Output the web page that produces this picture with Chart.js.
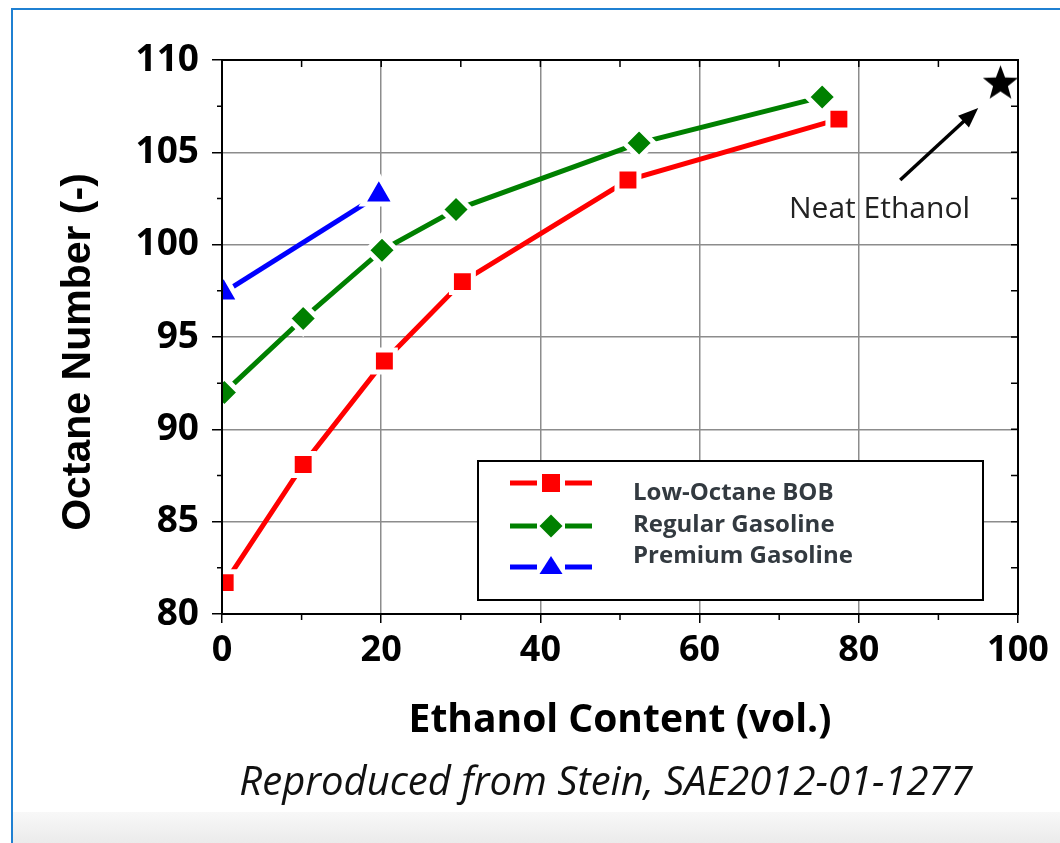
<!DOCTYPE html>
<html>
<head>
<meta charset="utf-8">
<title>Octane Number vs Ethanol Content</title>
<script src="https://cdn.jsdelivr.net/npm/chart.js@4.4.1/dist/chart.umd.min.js"></script>
<style>
  html, body { margin: 0; padding: 0; background: #fff; }
  #page { position: relative; width: 1060px; height: 843px; overflow: hidden; }
  #frame { position: absolute; left: 11px; top: 8px; right: 0; bottom: 0;
           border-left: 2px solid #1f80d2; border-top: 2px solid #1f80d2; }
  #foot { position: absolute; left: 13px; right: 0; top: 812px; bottom: 0;
          background: linear-gradient(#f8f8f8, #ebebeb); }
  #c { position: absolute; left: 0; top: 0; }
</style>
</head>
<body>
<div id="page">
  <div id="frame"></div>
  <div id="foot"></div>
  <canvas id="c" width="1060" height="843"></canvas>
</div>
<script>
// data
const bobX = [0.4, 10.2, 20.4, 30.2, 51.0, 77.5];
const bobY = [81.7, 88.1, 93.7, 98.0, 103.5, 106.8];
const regX = [0.3, 10.2, 20.1, 29.4, 52.4, 75.4];
const regY = [92.0, 96.0, 99.7, 101.9, 105.5, 108.0];
const premX = [0.2, 19.7];
const premY = [97.4, 102.7];
const neatX = [97.8];
const neatY = [108.8];

const xLabels = [0, 20, 40, 60, 80, 100];
const yLabels = [80, 85, 90, 95, 100, 105, 110];

const arrowFrom = [85.2, 103.5];
const arrowTo = [95.0, 107.4];
const noteAt = [82.6, 101.9];

function pts(xs, ys) {
  return xs.map((x, i) => ({ x: x, y: ys[i] }));
}

function starImage(size) {
  const c = document.createElement("canvas");
  c.width = c.height = size;
  const g = c.getContext("2d");
  const cx = size / 2, cy = size / 2 + 1.5, R = size / 2 - 1, r = R * 0.42;
  g.fillStyle = "#000";
  g.beginPath();
  for (let i = 0; i < 10; i++) {
    const ang = -Math.PI / 2 + i * Math.PI / 5;
    const rr = i % 2 ? r : R;
    g.lineTo(cx + rr * Math.cos(ang), cy + rr * Math.sin(ang));
  }
  g.closePath();
  g.fill();
  return c;
}

const series = [
  { label: "Low-Octane BOB", color: "#ff0000", style: "rect", radius: 15.5, data: pts(bobX, bobY) },
  { label: "Regular Gasoline", color: "#008000", style: "rectRot", radius: 15, data: pts(regX, regY) },
  { label: "Premium Gasoline", color: "#0000ff", style: "triangle", radius: 18.5, data: pts(premX, premY) }
];

const datasets = series.map(s => ({
  label: s.label,
  data: s.data,
  borderColor: s.color,
  backgroundColor: s.color,
  borderWidth: 5,
  pointStyle: s.style,
  pointRadius: s.radius,
  pointBorderColor: "#fff",
  pointBorderWidth: 5,
  pointBackgroundColor: s.color,
  tension: 0
}));

datasets.push({
  label: "Neat Ethanol",
  data: pts(neatX, neatY),
  showLine: false,
  pointStyle: starImage(39),
  pointRadius: 19
});

function drawMarker(ctx, style, x, y, color) {
  ctx.fillStyle = color;
  ctx.beginPath();
  if (style === "rect") {
    ctx.rect(x - 9, y - 9, 18, 18);
  } else if (style === "rectRot") {
    ctx.moveTo(x - 11.5, y); ctx.lineTo(x, y - 11.5);
    ctx.lineTo(x + 11.5, y); ctx.lineTo(x, y + 11.5);
  } else {
    ctx.moveTo(x, y - 11); ctx.lineTo(x + 11.5, y + 7); ctx.lineTo(x - 11.5, y + 7);
  }
  ctx.closePath();
  ctx.fill();
}

const extras = {
  id: "extras",
  afterDraw(chart) {
    const { ctx, chartArea: a, scales: { x, y } } = chart;
    ctx.save();

    // minor ticks outside + all ticks inside on top / right
    ctx.strokeStyle = "#000";
    ctx.lineWidth = 1.5;
    ctx.beginPath();
    x.ticks.forEach(t => {
      const px = x.getPixelForValue(t.value);
      if (!xLabels.includes(t.value)) { ctx.moveTo(px, a.bottom); ctx.lineTo(px, a.bottom + 6); }
      ctx.moveTo(px, a.top); ctx.lineTo(px, a.top + 7);
    });
    y.ticks.forEach(t => {
      const py = y.getPixelForValue(t.value);
      if (!yLabels.includes(t.value)) { ctx.moveTo(a.left, py); ctx.lineTo(a.left - 5, py); }
      ctx.moveTo(a.right, py); ctx.lineTo(a.right - 7, py);
    });
    ctx.stroke();

    // plot frame
    ctx.lineWidth = 2;
    ctx.strokeRect(a.left, a.top, a.right - a.left, a.bottom - a.top);

    // y axis title
    ctx.save();
    ctx.translate(79, 352);
    ctx.rotate(-Math.PI / 2);
    ctx.fillStyle = "#000";
    ctx.font = "bold 41px 'Liberation Sans'";
    ctx.textAlign = "center";
    ctx.textBaseline = "middle";
    ctx.fillText("Octane Number (-)", 0, 0);
    ctx.restore();

    // arrow to neat ethanol
    const x0 = x.getPixelForValue(arrowFrom[0]), y0 = y.getPixelForValue(arrowFrom[1]);
    const x1 = x.getPixelForValue(arrowTo[0]), y1 = y.getPixelForValue(arrowTo[1]);
    const ang = Math.atan2(y1 - y0, x1 - x0);
    ctx.lineWidth = 3.5;
    ctx.beginPath();
    ctx.moveTo(x0, y0);
    ctx.lineTo(x1 - 14 * Math.cos(ang), y1 - 14 * Math.sin(ang));
    ctx.stroke();
    ctx.fillStyle = "#000";
    ctx.beginPath();
    ctx.moveTo(x1, y1);
    ctx.lineTo(x1 - 20 * Math.cos(ang) + 8 * Math.sin(ang), y1 - 20 * Math.sin(ang) - 8 * Math.cos(ang));
    ctx.lineTo(x1 - 20 * Math.cos(ang) - 8 * Math.sin(ang), y1 - 20 * Math.sin(ang) + 8 * Math.cos(ang));
    ctx.closePath();
    ctx.fill();

    ctx.fillStyle = "#222";
    ctx.font = "30px 'Open Sans'";
    ctx.textAlign = "center";
    ctx.textBaseline = "middle";
    ctx.fillText("Neat Ethanol", x.getPixelForValue(noteAt[0]), y.getPixelForValue(noteAt[1]));

    // legend box
    const lx = 478, ly = 461, lw = 505, lh = 139;
    ctx.fillStyle = "#fff";
    ctx.fillRect(lx, ly, lw, lh);
    ctx.strokeStyle = "#000";
    ctx.lineWidth = 2;
    ctx.strokeRect(lx, ly, lw, lh);
    const markRows = [483, 526, 567];
    const textRows = [493, 525, 556];
    series.forEach((s, i) => {
      const my = markRows[i];
      ctx.strokeStyle = s.color;
      ctx.lineWidth = 5;
      ctx.beginPath();
      ctx.moveTo(510, my); ctx.lineTo(537, my);
      ctx.moveTo(565, my); ctx.lineTo(592, my);
      ctx.stroke();
      drawMarker(ctx, s.style, 551, my, s.color);
      ctx.fillStyle = "#333a40";
      ctx.font = "bold 24px 'Open Sans'";
      ctx.textAlign = "left";
      ctx.fillText(s.label, 633, textRows[i]);
    });

    // source line
    ctx.fillStyle = "#111";
    ctx.font = "italic 40px 'Open Sans'";
    ctx.textAlign = "center";
    ctx.fillText("Reproduced from Stein, SAE2012-01-1277", 606, 784);
    ctx.restore();
  }
};

new Chart(document.getElementById("c"), {
  type: "line",
  data: { datasets: datasets },
  plugins: [extras],
  options: {
    responsive: false,
    animation: false,
    events: [],
    layout: { padding: { left: 0, top: 60, right: 42, bottom: 99 } },
    plugins: { legend: { display: false }, tooltip: { enabled: false } },
    scales: {
      x: {
        type: "linear",
        min: 0,
        max: 100,
        afterFit: s => { s.height = 130; },
        ticks: {
          stepSize: 10,
          autoSkip: false,
          maxRotation: 0,
          padding: 6,
          color: "#000",
          font: { family: "'Open Sans'", size: 36, weight: "bold" },
          callback: v => xLabels.includes(v) ? String(v) : ""
        },
        grid: {
          color: c => (c.tick && xLabels.includes(c.tick.value)) ? "#8c8c8c" : "rgba(0,0,0,0)",
          tickColor: c => (c.tick && xLabels.includes(c.tick.value)) ? "#000" : "rgba(0,0,0,0)",
          tickLength: 9,
          lineWidth: 1.5
        },
        border: { color: "#000", width: 2 },
        title: {
          display: true,
          text: "Ethanol Content (vol.)",
          color: "#000",
          font: { family: "'Open Sans'", size: 39, weight: "bold" },
          padding: { top: 0, bottom: 0 }
        }
      },
      y: {
        min: 80,
        max: 110,
        afterFit: s => { s.width = 222; },
        ticks: {
          stepSize: 2.5,
          autoSkip: false,
          padding: 13,
          color: "#000",
          font: { family: "'Open Sans'", size: 37, weight: "bold" },
          callback: v => yLabels.includes(v) ? String(v) : ""
        },
        grid: {
          color: c => (c.tick && yLabels.includes(c.tick.value)) ? "#8c8c8c" : "rgba(0,0,0,0)",
          tickColor: c => (c.tick && yLabels.includes(c.tick.value)) ? "#000" : "rgba(0,0,0,0)",
          tickLength: 10,
          lineWidth: 1.5
        },
        border: { color: "#000", width: 2 }
      }
    }
  }
});
</script>
</body>
</html>
